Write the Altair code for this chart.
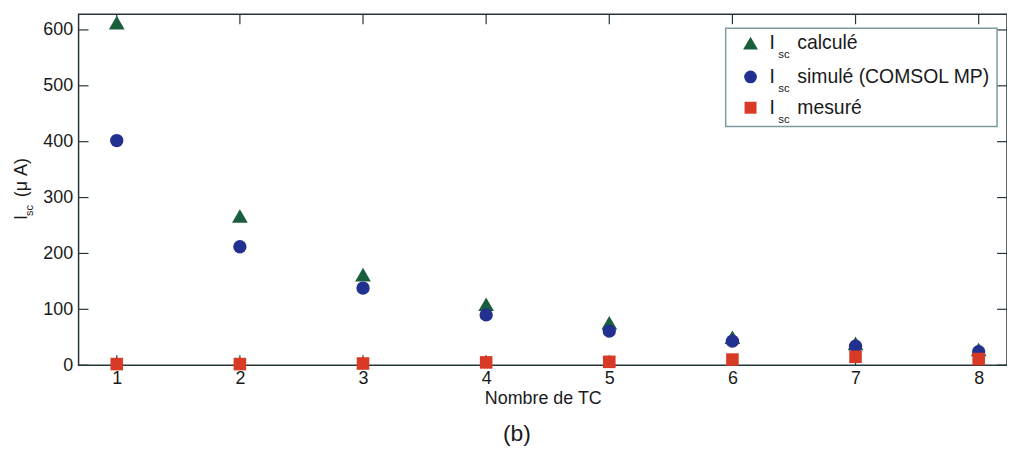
import altair as alt
import pandas as pd

# ---- data ----
nb_tc = [1, 2, 3, 4, 5, 6, 7, 8]
isc_calcule = [613, 267, 162, 109, 76, 50, 39, 28]
isc_simule = [402, 212, 138, 90, 61, 43, 34, 24]
isc_mesure = [2, 2, 3, 5, 6, 10, 15, 11]
y_ticks = [0, 100, 200, 300, 400, 500, 600]
x_ticks = [1, 2, 3, 4, 5, 6, 7, 8]

series_names = ["calculé", "simulé (COMSOL MP)", "mesuré"]
series_colors = ["#1b5e3b", "#22308f", "#d93a26"]
series_shapes = ["triangle-up", "circle", "square"]
series_sizes = [250, 180, 160]

W, H = 934, 353
FONT = "Liberation Sans"
TXT = "#1a1a1a"
AX = "#24363c"

xscale = alt.Scale(domain=[0.69, 8.23], nice=False, zero=False)
yscale = alt.Scale(domain=[0, 628], nice=False, zero=False)

xaxis = alt.Axis(values=x_ticks, format="d", ticks=False, domain=False,
                 grid=False, labelFontSize=18, labelFont=FONT,
                 labelColor=TXT, labelPadding=4, titleFontSize=18,
                 titleFont=FONT, titleColor=TXT, titleFontWeight="normal",
                 titlePadding=3)
yaxis = alt.Axis(values=y_ticks, format="d", ticks=False, domain=False,
                 grid=False, labelFontSize=18, labelFont=FONT,
                 labelColor=TXT, labelPadding=6)
XT = "Nombre de TC"

df = pd.DataFrame({
    "x": nb_tc * 3,
    "y": isc_calcule + isc_simule + isc_mesure,
    "s": [series_names[0]] * 8 + [series_names[1]] * 8 + [series_names[2]] * 8,
})

layers = []

# inward ticks (drawn under the markers)
ytk = pd.DataFrame({"x": [1] * len(y_ticks), "y": y_ticks})
xtk = pd.DataFrame({"x": x_ticks, "y": [0] * len(x_ticks)})
tick_style = dict(color=AX, strokeWidth=1.2)
layers.append(alt.Chart(ytk).mark_rule(**tick_style).encode(
    y=alt.Y("y:Q", scale=yscale, axis=yaxis, title=None), x=alt.value(0), x2=alt.value(10)))
layers.append(alt.Chart(ytk).mark_rule(**tick_style).encode(
    y=alt.Y("y:Q", scale=yscale, axis=yaxis, title=None), x=alt.value(W - 10), x2=alt.value(W)))
layers.append(alt.Chart(xtk).mark_rule(**tick_style).encode(
    x=alt.X("x:Q", scale=xscale, axis=xaxis, title=XT), y=alt.value(0), y2=alt.value(10)))
layers.append(alt.Chart(xtk).mark_rule(**tick_style).encode(
    x=alt.X("x:Q", scale=xscale, axis=xaxis, title=XT), y=alt.value(H - 10), y2=alt.value(H)))

for name, col, shp, sz in zip(series_names, series_colors, series_shapes, series_sizes):
    layers.append(
        alt.Chart(df).transform_filter(alt.datum.s == name)
        .mark_point(shape=shp, filled=True, size=sz, color=col, opacity=1)
        .encode(x=alt.X("x:Q", scale=xscale, axis=xaxis, title=XT),
                y=alt.Y("y:Q", scale=yscale, axis=yaxis, title=None))
    )

# legend box
one = pd.DataFrame({"a": [0]})
layers.append(alt.Chart(one).mark_rect(fill="white", stroke="#7f9aa3", strokeWidth=1.5).encode(
    x=alt.value(651), x2=alt.value(924), y=alt.value(14), y2=alt.value(113)))
rows = [29, 63, 94]
for name, col, shp, sz, ry in zip(series_names, series_colors, series_shapes, series_sizes, rows):
    layers.append(alt.Chart(one).mark_point(shape=shp, filled=True, size=sz * 0.9, color=col, opacity=1).encode(
        x=alt.value(676), y=alt.value(ry)))
    layers.append(alt.Chart(one).mark_text(text="I", font=FONT, fontSize=19.5, color=TXT,
                                           align="left", baseline="middle").encode(
        x=alt.value(695), y=alt.value(ry)))
    layers.append(alt.Chart(one).mark_text(text="sc", font=FONT, fontSize=11.5, color=TXT,
                                           align="left", baseline="middle").encode(
        x=alt.value(704), y=alt.value(ry + 12)))
    layers.append(alt.Chart(one).mark_text(text=name, font=FONT, fontSize=19.5, color=TXT,
                                           align="left", baseline="middle").encode(
        x=alt.value(723), y=alt.value(ry)))

# y-axis title with subscript
layers.append(alt.Chart(one).mark_text(text="I", font=FONT, fontSize=18, color=TXT, angle=270,
                                       align="left", baseline="alphabetic").encode(
    x=alt.value(-52), y=alt.value(207)))
layers.append(alt.Chart(one).mark_text(text="sc", font=FONT, fontSize=11, color=TXT, angle=270,
                                       align="left", baseline="alphabetic").encode(
    x=alt.value(-46), y=alt.value(203)))
layers.append(alt.Chart(one).mark_text(text="(μ A)", font=FONT, fontSize=18, color=TXT, angle=270,
                                       align="left", baseline="alphabetic").encode(
    x=alt.value(-52), y=alt.value(184)))

# caption
layers.append(alt.Chart(one).mark_text(text="(b)", font=FONT, fontSize=23, color=TXT,
                                       align="center", baseline="middle").encode(
    x=alt.value(441), y=alt.value(422)))

chart = alt.layer(*layers).properties(
    width=W, height=H,
    padding={"left": 71, "top": 5, "right": 0, "bottom": 85},
    autosize=alt.AutoSizeParams(type="none"),
    background="white",
).configure_view(stroke=AX, strokeWidth=1.5)

chart.save("out.html", embed_options={"renderer": "svg", "actions": False})
